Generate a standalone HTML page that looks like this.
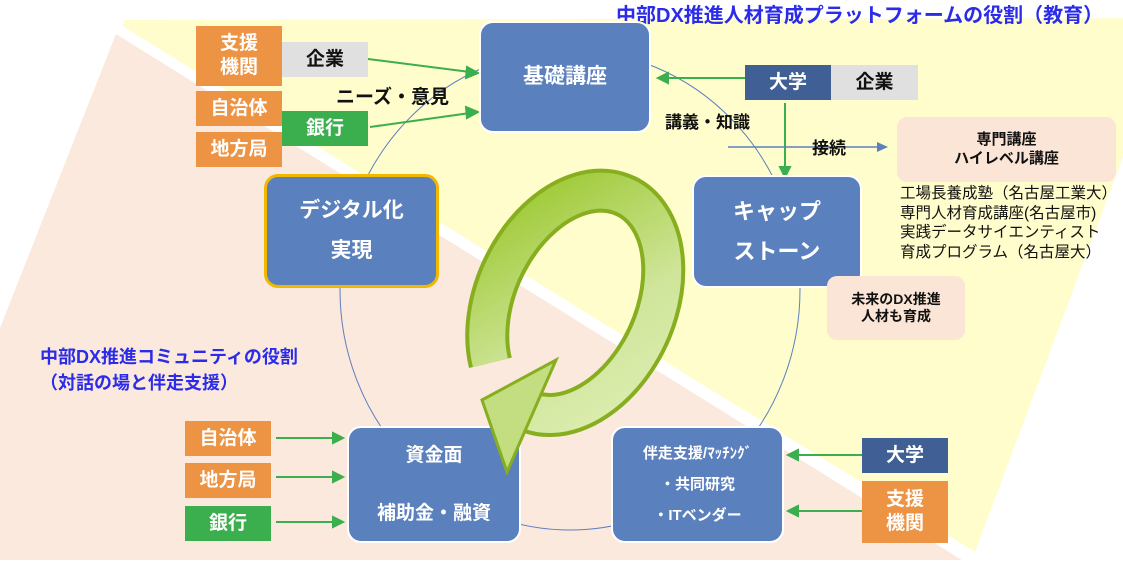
<!DOCTYPE html>
<html><head><meta charset="utf-8"><style>
body{margin:0;width:1123px;height:570px;position:relative;overflow:hidden;background:#fff;font-family:"Liberation Sans","Noto Sans CJK JP",sans-serif;}
.b{position:absolute;display:flex;align-items:center;justify-content:center;text-align:center;font-weight:bold;box-sizing:border-box;line-height:1.25}
.o{background:#ED9444;color:#fff;font-size:19px}
.g{background:#3BAE4E;color:#fff;font-size:19px}
.gr{background:#E0E0E0;color:#111;font-size:19px}
.d{background:#3F5F95;color:#fff;font-size:19px}
.n{background:#5B80BE;color:#fff;border:2px solid #fff;border-radius:14px;flex-direction:column}
.p{background:#FBE5D6;border-radius:10px;color:#111;font-size:14px;flex-direction:column}
.t{position:absolute;font-weight:bold;white-space:nowrap}
</style></head><body>
<svg width="1123" height="570" style="position:absolute;left:0;top:0">
<polygon points="124,20 1175,18 975,552 122,28" fill="#FFFDCB"/>
<polygon points="116,34 965,562 960,570 -100,570 -90,556" fill="#FAE9DC"/>
<line x1="118" y1="28" x2="972" y2="556" stroke="#fff" stroke-width="8"/>
<rect x="0" y="560" width="1123" height="10" fill="#fff"/>
<ellipse cx="570" cy="290" rx="230" ry="240" fill="none" stroke="#5B80BE" stroke-width="1"/>
<g stroke="#3BAE4E" stroke-width="2" fill="#3BAE4E">
<line x1="368" y1="59" x2="470" y2="72"/><polygon points="478,73 467,67 466,78"/>
<line x1="370" y1="127" x2="470" y2="113"/><polygon points="478,112 466,107 467,118"/>
<line x1="745" y1="78" x2="667" y2="78"/><polygon points="658,78 668,73 668,83"/>
<line x1="785" y1="103" x2="785" y2="168"/><polygon points="785,177 780,167 790,167"/>
<line x1="276" y1="438" x2="335" y2="438"/><polygon points="343,438 333,433 333,443"/>
<line x1="276" y1="477" x2="335" y2="477"/><polygon points="343,477 333,472 333,482"/>
<line x1="276" y1="522" x2="335" y2="522"/><polygon points="343,522 333,517 333,527"/>
<line x1="862" y1="455" x2="797" y2="455"/><polygon points="788,455 798,450 798,460"/>
<line x1="862" y1="511" x2="797" y2="511"/><polygon points="788,511 798,506 798,516"/>
</g>
<line x1="728" y1="147" x2="878" y2="147" stroke="#5B80BE" stroke-width="1.5"/>
<polygon points="888,147 877,142 877,152" fill="#5B80BE"/>
</svg>

<div class="t" style="left:616px;top:-1px;font-size:20px;color:#2B2BE8">中部DX推進人材育成プラットフォームの役割（教育）</div>
<div class="b o" style="left:196px;top:26px;width:86px;height:60px">支援<br>機関</div>
<div class="b o" style="left:196px;top:91px;width:86px;height:35px">自治体</div>
<div class="b o" style="left:196px;top:132px;width:86px;height:35px">地方局</div>
<div class="b gr" style="left:282px;top:42px;width:86px;height:35px">企業</div>
<div class="b g" style="left:282px;top:111px;width:86px;height:35px">銀行</div>
<div class="t" style="left:336px;top:82px;font-size:19px;color:#111">ニーズ・意見</div>

<div class="b n" style="left:479px;top:21px;width:172px;height:112px;font-size:21px">基礎講座</div>
<div class="b d" style="left:745px;top:65px;width:86px;height:35px">大学</div>
<div class="b gr" style="left:831px;top:65px;width:87px;height:35px">企業</div>
<div class="t" style="left:665px;top:108px;font-size:17px;color:#111">講義・知識</div>
<div class="t" style="left:812px;top:134px;font-size:17px;color:#111">接続</div>
<div class="b p" style="left:897px;top:117px;width:219px;height:65px;font-size:15px">専門講座<br>ハイレベル講座</div>
<div style="position:absolute;left:900px;top:184px;font-size:15.5px;line-height:19.5px;color:#111;white-space:nowrap">工場長養成塾（名古屋工業大）<br>専門人材育成講座(名古屋市)<br>実践データサイエンティスト<br>育成プログラム（名古屋大）</div>

<div class="b n" style="left:264px;top:174px;width:175px;height:114px;border:3px solid #F2B800;font-size:21px;line-height:40px">デジタル化<br>実現</div>
<div class="b n" style="left:692px;top:175px;width:170px;height:113px;font-size:22px;line-height:40px">キャップ<br>ストーン</div>
<div class="b p" style="left:827px;top:276px;width:138px;height:64px">未来のDX推進<br>人材も育成</div>

<div class="t" style="left:40px;top:344px;font-size:18px;color:#2B2BE8;line-height:26px">中部DX推進コミュニティの役割<br>（対話の場と伴走支援）</div>
<div class="b o" style="left:185px;top:421px;width:86px;height:35px">自治体</div>
<div class="b o" style="left:185px;top:463px;width:86px;height:35px">地方局</div>
<div class="b g" style="left:185px;top:506px;width:86px;height:35px">銀行</div>
<div class="b n" style="left:347px;top:426px;width:174px;height:117px;font-size:19px;line-height:58px">資金面<br>補助金・融資</div>
<div class="b n" style="left:611px;top:426px;width:173px;height:117px;font-size:15px;line-height:31px">伴走支援/ﾏｯﾁﾝｸﾞ<br>・共同研究<br>・ITベンダー</div>
<div class="b d" style="left:862px;top:438px;width:86px;height:35px">大学</div>
<div class="b o" style="left:862px;top:481px;width:86px;height:62px">支援<br>機関</div>

<svg width="1123" height="570" style="position:absolute;left:0;top:0">
<defs>
<linearGradient id="ag" x1="0" y1="0" x2="1" y2="1"><stop offset="0" stop-color="#9CC830"/><stop offset="0.6" stop-color="#CFE59A"/><stop offset="1" stop-color="#DDEDB0"/></linearGradient>
</defs>
<g transform="translate(574,302) rotate(25)">
<path d="M -50.1 90.4 A 80 118 0 1 1 -6.8 117.6" fill="none" stroke="#86AE1E" stroke-width="44"/>
<path d="M -50.1 90.4 A 80 118 0 1 1 -6.8 117.6" fill="none" stroke="url(#ag)" stroke-width="36"/>
</g>
<polygon points="482,400 556,360 507,472" fill="#C3DE80" stroke="#86AE1E" stroke-width="3"/>
</svg>
</body></html>
